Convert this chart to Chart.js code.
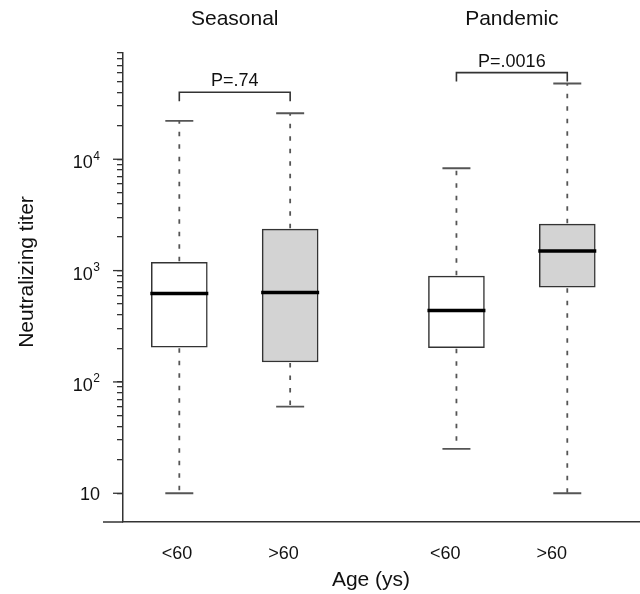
<!DOCTYPE html>
<html>
<head>
<meta charset="utf-8">
<script src="https://cdn.jsdelivr.net/npm/chart.js@4"></script>
<style>
  html, body { margin: 0; padding: 0; background: #fff; }
  #chart { display: block; }
</style>
</head>
<body>
<canvas id="chart" width="640" height="594"></canvas>
<script>
// --- data ---
const groupNames  = ['Seasonal', 'Pandemic'];
const pLabels     = ['P=.74', 'P=.0016'];
const ageLabels   = ['<60', '>60', '<60', '>60'];
const boxSlots    = [1, 2, 3.5, 4.5];
const whiskerLow  = [10, 60, 25, 10];
const quartile1   = [205, 151, 203, 709];
const medians     = [621, 634, 437, 1503];
const quartile3   = [1189, 2355, 891, 2612];
const whiskerHigh = [22100, 25900, 8300, 47900];
const bracketLevel = [40000, 60000];
const majorTicks  = [10, 100, 1000, 10000];
const majorExps   = ['', '2', '3', '4'];
const minorSteps  = [2, 3, 4, 5, 6, 7, 8, 9];

const FONT = '"Liberation Sans", Arial, Helvetica, sans-serif';
const INK = '#333';
const DASH_INK = '#555';
const BOX_HALF = 28;
const xLabelPos = [0.98, 1.94, 3.4, 4.36];

const yTickValues = [];
majorTicks.forEach(d => {
  yTickValues.push(d);
  minorSteps.forEach(m => yTickValues.push(d * m));
});

const boxData = boxSlots.map((x, i) => ({ x, y: [quartile1[i], quartile3[i]] }));

// whiskers, caps and medians on top of the bars
const boxPlotPlugin = {
  id: 'boxPlotExtras',
  afterDatasetsDraw(chart) {
    const { ctx, scales: { x, y } } = chart;
    ctx.save();
    boxSlots.forEach((slot, i) => {
      const cx = x.getPixelForValue(slot);
      const yHi = y.getPixelForValue(whiskerHigh[i]);
      const yLo = y.getPixelForValue(whiskerLow[i]);

      ctx.strokeStyle = DASH_INK;
      ctx.lineWidth = 1.8;
      ctx.setLineDash([4.5, 8]);
      ctx.beginPath();
      ctx.moveTo(cx, y.getPixelForValue(quartile3[i]) - 1);
      ctx.lineTo(cx, yHi);
      ctx.moveTo(cx, y.getPixelForValue(quartile1[i]) + 1);
      ctx.lineTo(cx, yLo);
      ctx.stroke();
      ctx.setLineDash([]);

      ctx.lineWidth = 1.8;
      ctx.beginPath();
      ctx.moveTo(cx - 14, yHi); ctx.lineTo(cx + 14, yHi);
      ctx.moveTo(cx - 14, yLo); ctx.lineTo(cx + 14, yLo);
      ctx.stroke();

      const ym = y.getPixelForValue(medians[i]);
      ctx.strokeStyle = '#000';
      ctx.lineWidth = 3.5;
      ctx.beginPath();
      ctx.moveTo(cx - BOX_HALF - 1, ym);
      ctx.lineTo(cx + BOX_HALF + 1, ym);
      ctx.stroke();
    });
    ctx.restore();
  }
};

// axis labels with superscripts, titles, brackets
const annotatePlugin = {
  id: 'annotate',
  afterDraw(chart) {
    const { ctx, chartArea, scales: { x, y } } = chart;
    ctx.save();
    ctx.fillStyle = '#111';
    ctx.strokeStyle = INK;

    // longer major ticks + decade labels
    ctx.lineWidth = 1.3;
    majorTicks.forEach((v, i) => {
      const yp = y.getPixelForValue(v);
      ctx.beginPath();
      ctx.moveTo(chartArea.left - 10, yp);
      ctx.lineTo(chartArea.left, yp);
      ctx.stroke();
      const right = chartArea.left - 23;
      ctx.textAlign = 'right';
      ctx.textBaseline = 'alphabetic';
      if (majorExps[i]) {
        ctx.font = '12px ' + FONT;
        const w = ctx.measureText(majorExps[i]).width;
        ctx.fillText(majorExps[i], right, yp + 0.5);
        ctx.font = '18px ' + FONT;
        ctx.fillText('10', right - w - 0.5, yp + 9);
      } else {
        ctx.font = '18px ' + FONT;
        ctx.fillText('10', right, yp + 7);
      }
    });

    // x axis line runs a little past the y axis
    ctx.lineWidth = 1.5;
    ctx.beginPath();
    ctx.moveTo(chartArea.left - 20, chartArea.bottom);
    ctx.lineTo(chartArea.left, chartArea.bottom);
    ctx.stroke();

    // group titles and p-value brackets
    ctx.textAlign = 'center';
    ctx.textBaseline = 'alphabetic';
    groupNames.forEach((name, g) => {
      const xa = x.getPixelForValue(boxSlots[g * 2]);
      const xb = x.getPixelForValue(boxSlots[g * 2 + 1]);
      const mid = (xa + xb) / 2;
      ctx.font = '21px ' + FONT;
      ctx.fillText(name, mid, 25);

      const yb = y.getPixelForValue(bracketLevel[g]);
      ctx.strokeStyle = INK;
      ctx.lineWidth = 1.6;
      ctx.beginPath();
      ctx.moveTo(xa, yb + 9);
      ctx.lineTo(xa, yb);
      ctx.lineTo(xb, yb);
      ctx.lineTo(xb, yb + 9);
      ctx.stroke();
      ctx.font = '18px ' + FONT;
      ctx.fillText(pLabels[g], mid, yb - 6);
    });

    // axis titles
    ctx.font = '21px ' + FONT;
    ctx.fillText('Age (ys)', 371, 586);
    ctx.translate(33, 272);
    ctx.rotate(-Math.PI / 2);
    ctx.fillText('Neutralizing titer', 0, 0);
    ctx.restore();
  }
};

new Chart(document.getElementById('chart'), {
  type: 'bar',
  data: {
    datasets: [{
      data: boxData,
      backgroundColor: ['#ffffff', '#d3d3d3', '#ffffff', '#d3d3d3'],
      borderColor: INK,
      borderWidth: 1.5,
      borderSkipped: false,
      barThickness: BOX_HALF * 2,
    }]
  },
  options: {
    responsive: false,
    animation: false,
    layout: { padding: { top: 53, left: 0, right: 0, bottom: 0 } },
    plugins: { legend: { display: false }, tooltip: { enabled: false } },
    scales: {
      x: {
        type: 'linear',
        offset: false,
        min: 0.492,
        max: 5.156,
        afterBuildTicks(scale) { scale.ticks = xLabelPos.map(v => ({ value: v })); },
        afterFit(scale) { scale.height = 72; },
        grid: { display: false, drawTicks: false, offset: false },
        border: { display: true, color: INK, width: 1.5 },
        ticks: {
          padding: 21,
          color: '#111',
          font: { family: FONT, size: 18 },
          callback: (val, idx) => ageLabels[idx],
        }
      },
      y: {
        type: 'logarithmic',
        min: 5.52,
        max: 90000,
        afterBuildTicks(scale) { scale.ticks = yTickValues.map(v => ({ value: v })); },
        afterFit(scale) { scale.width = 123; },
        grid: { display: true, drawOnChartArea: false, drawTicks: true, tickLength: 6, color: INK, lineWidth: 1.3 },
        border: { display: true, color: INK, width: 1.5 },
        ticks: { display: false }
      }
    }
  },
  plugins: [boxPlotPlugin, annotatePlugin]
});
</script>
</body>
</html>
